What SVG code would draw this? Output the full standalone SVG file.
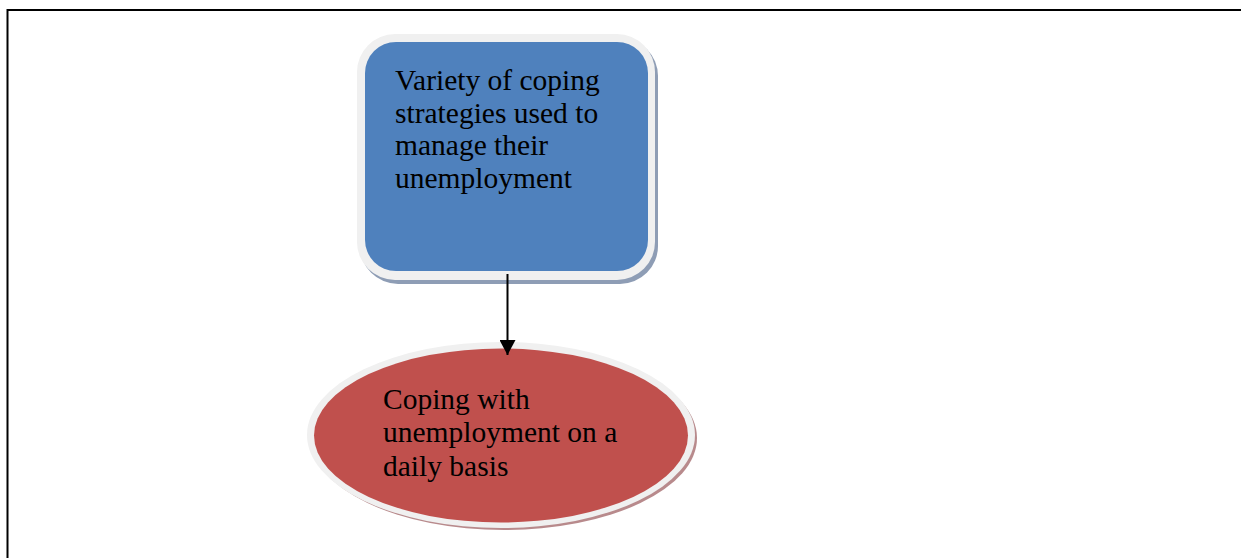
<svg xmlns="http://www.w3.org/2000/svg" width="1241" height="558" viewBox="0 0 1241 558">
<style>
.lbl{font-family:"Liberation Serif","Times New Roman",serif;font-size:29.5px;fill:#000}
.rim{fill:#F0F0F0}
</style>
<defs>
<marker id="ah" markerWidth="16" markerHeight="16" viewBox="0 0 16 16" refX="15" refY="8" orient="auto" markerUnits="userSpaceOnUse">
<path d="M0,0 L15,8 L0,16 Z" fill="#000"/>
</marker>
</defs>
<rect width="1241" height="558" fill="#fff"/>
<g id="frame">
<path d="M7.5,558 L7.5,10 L1241,10" fill="none" stroke="#000" stroke-width="2"/>
</g>
<g id="node-strategies">
<rect x="360" y="38" width="298" height="246" rx="38" fill="#8E9DB5"/>
<rect x="357" y="34" width="298" height="246" rx="38" class="rim"/>
<rect x="365" y="42" width="283" height="229" rx="31" fill="#4F81BD"/>
<text class="lbl" x="395" y="90">Variety of coping</text>
<text class="lbl" x="395" y="122.5">strategies used to</text>
<text class="lbl" x="395" y="155">manage their</text>
<text class="lbl" x="395" y="188">unemployment</text>
</g>
<g id="node-coping">
<ellipse cx="504" cy="438" rx="193" ry="92" fill="#B88A8C"/>
<ellipse cx="501" cy="435" rx="194" ry="93" class="rim"/>
<ellipse cx="501" cy="435.5" rx="187" ry="87" fill="#C0504D"/>
<text class="lbl" x="383" y="409">Coping with</text>
<text class="lbl" x="383" y="442">unemployment on a</text>
<text class="lbl" x="383" y="476">daily basis</text>
</g>
<g id="connectors">
<line x1="507.5" y1="274" x2="507.5" y2="355" stroke="#000" stroke-width="2" marker-end="url(#ah)"/>
</g>
</svg>
